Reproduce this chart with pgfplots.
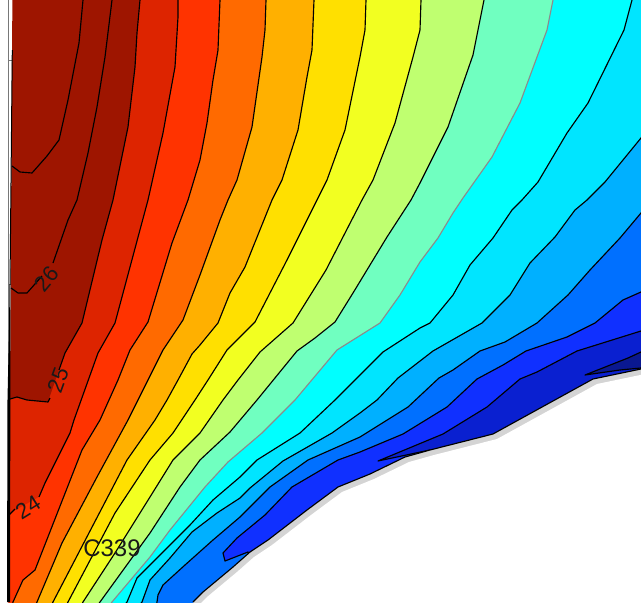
\documentclass[border=0pt]{standalone}
\usepackage{pgfplots}
\usepackage{fontspec}
\setmainfont{Liberation Sans}
\pgfplotsset{compat=1.18}
\definecolor{c0}{HTML}{9E1500}
\definecolor{c1}{HTML}{DD2400}
\definecolor{c2}{HTML}{FF3300}
\definecolor{c3}{HTML}{FF6A00}
\definecolor{c4}{HTML}{FFB000}
\definecolor{c5}{HTML}{FFE000}
\definecolor{c6}{HTML}{F2FF21}
\definecolor{c7}{HTML}{BFFF70}
\definecolor{c8}{HTML}{70FFC0}
\definecolor{c9}{HTML}{00FFFF}
\definecolor{c10}{HTML}{00E5FF}
\definecolor{c11}{HTML}{00B0FF}
\definecolor{c12}{HTML}{0070FF}
\definecolor{c13}{HTML}{1030FF}
\definecolor{c14}{HTML}{0A20D0}
\definecolor{c15}{HTML}{0A1890}
\definecolor{shade}{HTML}{D4D4D4}
\begin{document}
\begin{tikzpicture}
\begin{axis}[
    scale only axis,
    width=641pt,
    height=616pt,
    xmin=0, xmax=641,
    ymin=0, ymax=616,
    y dir=reverse,
    hide axis,
    no markers,
    every axis plot/.append style={line width=1.15pt, line join=round},
]
% base, everything hotter than the 25 line
\addplot[fill=c0, draw=none] coordinates {(12.5,-20) (700,-20) (700,640) (8.5,640)};
% bands, each one painted from its contour to the far corner
\addplot[fill=c1, draw=none] coordinates {(140,-20) (140,0) (137,33) (135,67) (128,127) (113,200) (102,240) (82,323) (65,353) (59,370) (48,402) (27,400) (17,397) (10,399) (8.5,640) (700,640) (700,-20)};
\addplot[fill=c2, draw=none] coordinates {(178,-20) (178,0) (178,17) (175,67) (163,133) (148,200) (115,323) (98,353) (74,420) (70,433) (45,483) (39,497) (12,512) (9,515) (8.5,640) (700,640) (700,-20)};
\addplot[fill=c3, draw=black] coordinates {(220,-20) (220,0) (218,50) (213,80) (207,123) (200,160) (188,200) (172,243) (148,322) (130,350) (118,380) (100,420) (82,450) (35,570) (23,580) (13,602) (5,640) (700,640) (700,-20)};
\addplot[fill=c4, draw=black] coordinates {(266,-20) (266,0) (265,30) (262,57) (252,127) (237,180) (228,200) (220,220) (200,275) (183,320) (163,350) (148,380) (128,420) (97,477) (62,543) (37,602) (20,640) (700,640) (700,-20)};
\addplot[fill=c5, draw=black] coordinates {(314,-20) (314,0) (312,50) (307,77) (298,130) (282,180) (272,200) (245,267) (230,293) (218,323) (200,345) (192,354) (178,380) (167,400) (155,420) (127,460) (53,602) (35,640) (700,640) (700,-20)};
\addplot[fill=c6, draw=black] coordinates {(366,-20) (366,0) (365,30) (360,57) (345,130) (327,180) (317,200) (287,260) (255,322) (227,350) (208,380) (195,400) (173,433) (150,460) (115,513) (68,602) (50,640) (700,640) (700,-20)};
\addplot[fill=c7, draw=black] coordinates {(421,-20) (421,0) (420,30) (413,57) (395,123) (373,180) (362,200) (326,270) (293,323) (260,352) (238,380) (223,400) (200,433) (173,460) (150,497) (115,553) (83,602) (65,640) (700,640) (700,-20)};
\addplot[fill=c8, draw=black] coordinates {(484,-20) (484,0) (473,55) (448,127) (420,183) (411,200) (387,237) (353,293) (335,322) (315,338) (297,351) (257,400) (230,432) (200,460) (180,487) (150,533) (100,602) (75,640) (700,640) (700,-20)};
\addplot[fill=c9, draw={rgb,255:red,140;green,140;blue,140}] coordinates {(553,-20) (553,0) (547,30) (520,103) (492,157) (463,198) (453,213) (438,238) (420,262) (400,295) (380,323) (337,350) (295,400) (262,433) (228,462) (205,487) (192,503) (170,530) (150,557) (112,602) (85,640) (700,640) (700,-20)};
\addplot[fill=c10, draw=black] coordinates {(637,-20) (632,0) (624,30) (588,103) (567,133) (538,182) (522,200) (512,210) (493,238) (470,265) (453,295) (430,323) (420,328) (383,352) (367,368) (335,400) (300,433) (257,460) (240,477) (213,500) (190,525) (163,552) (137,578) (127,602) (95,640) (700,640) (700,-20)};
\addplot[fill=c11, draw=black] coordinates {(700,70) (641,138) (605,182) (587,200) (575,210) (555,237) (530,263) (510,295) (482,323) (447,343) (433,351) (398,378) (377,400) (360,413) (332,433) (283,461) (250,488) (240,498) (217,513) (192,532) (170,558) (150,580) (142,602) (110,640) (700,640)};
\addplot[fill=c12, draw=black] coordinates {(700,150) (641,213) (620,238) (590,270) (568,295) (537,323) (505,342) (480,351) (453,370) (439,378) (408,407) (360,437) (308,460) (270,487) (240,517) (213,540) (185,565) (163,585) (158,595) (157,602) (150,640) (700,640)};
\addplot[fill=c13, draw=black] coordinates {(700,252) (641,292) (623,300) (595,323) (567,337) (526,351) (503,365) (477,379) (447,407) (403,434) (360,452) (338,460) (292,487) (265,515) (237,538) (223,553) (225,561) (248,552) (300,600) (700,640)};
\addplot[fill=c14, draw=black] coordinates {(378,461) (443,434) (487,407) (520,379) (537,372) (577,351) (641,331) (700,312) (700,500) (500,500) (430,450)} -- cycle;
\addplot[fill=c15, draw=black] coordinates {(585,375) (628,358) (641,352) (700,330) (700,450) (641,368) (620,370)} -- cycle;
% thin lines inside the dark red
\addplot[draw=black] coordinates {(84,-20) (83,0) (79,43) (68,100) (59,140) (47,156) (32,173) (20,172) (12,166)};
\addplot[draw=black] coordinates {(113,-20) (112,0) (105,57) (97,107) (88,153) (77,200) (68,220) (53,263)};
\addplot[draw=black] coordinates {(42,276) (27,293) (18,293) (11,288)};
\addplot[draw=black] coordinates {(140,-20) (140,0) (137,33) (135,67) (128,127) (113,200) (102,240) (82,323) (65,353) (59,370)};
\addplot[draw=black] coordinates {(50,398) (48,402) (27,400) (17,397) (10,399)};
\addplot[draw=black] coordinates {(178,-20) (178,0) (178,17) (175,67) (163,133) (148,200) (115,323) (98,353) (74,420) (70,433) (45,483) (39,497)};
\addplot[draw=black] coordinates {(15,509) (12,512) (9,515)};
% white part below the data, its shadow first
\addplot[fill=shade, draw=none] coordinates {(193,602) (203,592) (233,567) (250,552) (268,540) (307,510) (338,487) (370,474) (405,457) (430,450) (493,434) (593,379) (641,369) (700,360) (700,640) (193,640)};
\addplot[fill=white, draw=none] coordinates {(197,607) (207,597) (237,572) (254,557) (272,545) (311,515) (342,492) (374,479) (409,462) (434,455) (497,439) (597,384) (645,374) (704,365) (704,640) (197,640)};
\addplot[fill=white, draw=none] coordinates {(-10,602.5) (700,602.5) (700,640) (-10,640)};
\addplot[draw=black] coordinates {(193,602) (203,592) (233,567) (250,552) (268,540) (307,510) (338,487) (370,474) (405,457) (430,450) (493,434) (593,379) (641,369)};
% left edge and the two ticks still visible
\addplot[draw={rgb,255:red,120;green,120;blue,120}, line width=0.7pt] coordinates {(8,0) (8,400)};
\addplot[draw={rgb,255:red,120;green,120;blue,120}, line width=0.7pt] coordinates {(8,60) (12,60)};
\addplot[draw={rgb,255:red,120;green,120;blue,120}, line width=0.7pt] coordinates {(8,284) (11,284)};
\addplot[fill=black, draw=none] coordinates {(12.8,50) (10.5,285) (10.5,320) (10,602) (7,602) (7.5,400) (9,330) (9.5,285) (11.8,50)} -- cycle;
% labels
\node[rotate=50, font=\fontsize{22}{22}\selectfont, text=black!90] at (axis cs:47,279) {26};
\node[rotate=70, font=\fontsize{22}{22}\selectfont, text=black!90] at (axis cs:58,380) {25};
\node[rotate=32, font=\fontsize{22}{22}\selectfont, text=black!90] at (axis cs:28,507) {24};
\node[font=\fontsize{24}{24}\selectfont, text=black!90] at (axis cs:112,548) {C339};
\end{axis}
\end{tikzpicture}
\end{document}
